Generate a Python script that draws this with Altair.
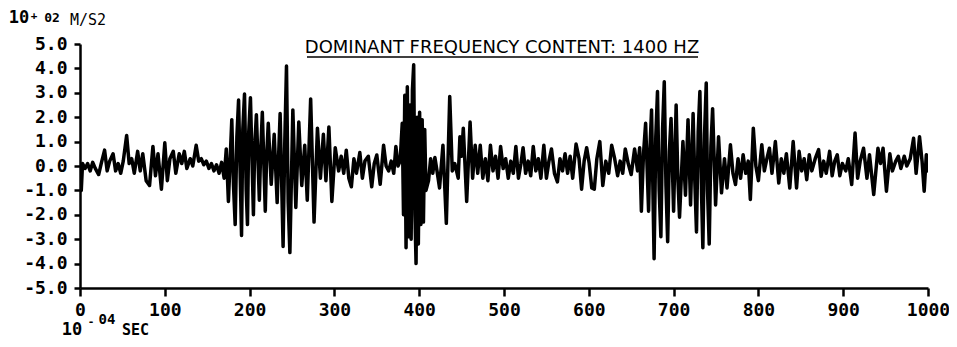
import altair as alt
import pandas as pd

# ---- data (time in 10^-4 s, acceleration in 10^2 m/s2) ----
t_quiet1 = [0, 1.5, 3, 6, 9, 12, 15, 18, 22, 25, 29, 32, 35, 39, 42, 45, 48, 51, 55, 58, 61, 64, 68, 71, 74, 78,
            82, 86, 89, 92, 96, 100, 103, 106, 110, 113, 117, 120, 123, 126, 130, 133, 137, 140, 143, 146, 149,
            152, 155, 158, 161, 164, 167, 170, 172.5]
v_quiet1 = [0.0, -1.0, 0.1, -0.1, 0.1, -0.2, 0.15, -0.1, -0.35, 0.1, 0.65, -0.2, 0.2, 0.5, -0.2, 0.1, -0.3, 0.2,
            1.25, 0.1, 0.3, -0.3, 0.6, -0.2, 0.5, -0.6, -0.8, 0.8, -0.4, 0.5, -0.95, 0.95, -0.6, 0.3, 0.6, -0.3,
            0.5, 0.1, 0.6, -0.1, 0.3, 0.0, 0.85, 0.2, 0.3, 0.05, 0.2, -0.1, 0.1, -0.2, 0.05, -0.3, 0.15, -0.5, 0.7]

t_burst1 = [175, 179, 181, 183, 185, 187, 190.5, 192, 194, 196, 197.5, 199, 201, 204.5, 206, 208, 211.5, 213,
            215, 218.5, 220, 222, 225.5, 229, 232.5, 234, 236, 239.5, 241.5, 243.5, 245.5, 247.5, 251, 254.5,
            258, 261.5, 265, 268, 272, 276, 280, 283.5, 287, 290, 293.5, 297, 301, 305]
v_burst1 = [-1.45, 1.9, -0.8, -2.4, 1.2, 2.7, -2.85, 1.5, 2.95, -1.0, -2.4, 1.4, 2.8, -2.0, 0.8, 2.1, -1.4, 0.5,
            2.2, -1.85, 0.3, 1.75, -0.75, 1.3, -1.5, 0.2, 2.15, -3.3, 1.0, 4.1, -1.5, -3.55, 2.3, -1.7, 1.8,
            -0.8, 0.85, -1.4, 2.75, -2.3, 1.55, -0.5, 1.3, -0.6, 1.6, -1.45, 0.75, -0.2]

t_mid1 = [308, 311, 314, 317, 320, 323, 326, 330, 333, 336, 340, 344, 347, 350, 354, 358, 361, 364, 367, 370,
          372.5, 375, 377.5]
v_mid1 = [0.4, -0.3, 0.65, -0.5, -0.85, 0.3, -0.3, 0.55, -0.5, 0.2, 0.4, -0.85, 0.1, 0.45, -0.75, 0.85, 0.0,
          -0.2, 0.2, -0.3, 0.8, 0.0, 0.2]

t_burst2 = [380, 381.5, 383, 384.5, 386, 387.5, 389, 390.5, 392, 393.5, 395, 396.3, 397.5, 399, 400.5, 402,
            403.5, 405, 406.5, 408]
v_burst2 = [1.75, -2.0, 2.9, -3.35, 3.25, -2.9, 2.5, -3.0, 3.1, 4.15, -2.0, -4.0, 2.0, -3.2, 2.2, -2.4, 1.9,
            -2.3, 1.5, -1.0]

t_mid2 = [411, 413.5, 416, 418.5, 421, 424, 428, 432, 436, 439, 442, 446, 448, 450, 452, 456, 460, 463, 466,
          469, 472, 475, 478, 481]
v_mid2 = [-0.6, 0.3, -0.3, 0.35, -0.2, -0.9, 0.85, -2.35, 2.85, -0.2, 0.1, -0.5, 1.2, 0.4, 1.55, -1.45, 1.8,
          -0.5, 0.85, -0.3, 0.85, -0.5, 0.3, -0.6]

t_quiet2 = [484, 487, 490, 493, 496, 499, 502, 505, 508, 511, 514, 517, 520, 522.5, 525.5, 528.5, 531.5, 534.5,
            537.5, 540.5, 543.5, 547, 550, 553, 556, 559.5, 563, 566, 569, 572, 575, 578, 581, 585, 588.5,
            591.5, 594.5, 597.5, 600.5, 603.5, 606.5, 609.5, 613, 616.5, 620, 623.5, 627, 630.5, 634, 637, 640,
            643, 646.5, 650, 654, 657.5, 660]
v_quiet2 = [0.85, -0.2, 0.4, -0.5, 0.8, -0.1, 0.3, -0.5, 0.2, -0.3, 0.8, -0.5, 0.1, 0.75, -0.3, 0.2, -0.4, 0.8,
            -0.2, 0.3, -0.5, 0.85, -0.5, 0.2, 0.7, -0.3, -0.65, 0.3, -0.2, 0.5, -0.3, 0.4, -0.5, 0.9, 0.3,
            -0.95, 0.2, 0.75, 0.1, -0.9, -0.95, 0.3, 1.0, -0.8, 0.2, -0.3, 0.85, 0.3, -0.4, 0.2, -0.3, 0.7, 0.1,
            -0.35, 0.7, -0.2, 0.75]

t_burst3 = [662, 664.5, 667, 670.5, 672, 674, 677, 679, 681, 683, 685, 687, 689, 691, 693, 695, 697, 700, 703,
            705, 707, 711, 714, 717, 720, 723, 725, 727, 729, 731, 733, 734.5, 736.5, 738.5, 740, 742, 744, 746,
            749.5, 753, 756.5]
v_burst3 = [-1.85, 0.5, 1.75, -1.85, 0.6, 2.3, -3.8, 1.2, 3.05, -1.0, -2.9, 1.5, 3.45, -0.8, -3.1, 0.6, 1.95,
            -1.85, 2.5, -0.5, -2.1, 1.0, -1.2, 1.9, -1.6, 2.15, -0.6, -2.7, 1.4, 3.05, -1.2, -3.35, 1.3, 3.4,
            -1.0, -3.2, 0.8, 2.35, -1.6, 1.2, -1.1]

t_tail = [760, 763, 767, 770, 773, 776, 779, 782, 785, 788, 790.5, 794, 797, 800, 804, 807, 810, 813, 816, 820,
          824, 827, 830, 833, 837, 841, 845, 848, 851, 854, 857, 860, 863, 867, 871, 874, 877, 880, 884, 887,
          890, 893, 896, 899, 903, 906, 910, 914, 917, 920, 924, 928, 931, 936, 941, 944, 947, 951, 955, 958,
          962, 965, 968, 972, 975, 979, 983, 986, 990, 993, 995.5, 998, 1000]
v_tail = [0.3, -0.9, 0.87, -0.3, -0.76, 0.3, -0.5, 0.46, -0.3, 0.2, -1.37, 1.55, 0.0, -0.6, 0.87, -0.2, 0.3,
          0.73, -0.3, 1.0, -0.7, 0.3, -0.3, 0.5, -0.9, 1.0, -0.9, 0.6, -0.2, 0.3, -0.56, 0.46, -0.2, 0.3, 0.67,
          -0.42, 0.2, -0.3, 0.6, -0.4, 0.2, 0.46, -0.4, 0.1, -0.2, 0.3, -0.76, 1.35, -0.5, 0.2, 0.73, -0.5,
          0.46, -1.17, 0.73, 0.1, 0.73, -1.03, 0.5, -0.2, 0.2, 0.4, -0.1, 0.4, 0.0, 0.3, 1.14, -0.3, 1.2, 0.2,
          -1.03, 0.46, -0.2]

x_ticks = [0, 100, 200, 300, 400, 500, 600, 700, 800, 900, 1000]
y_ticks = [5, 4, 3, 2, 1, 0, -1, -2, -3, -4, -5]
title_text = "DOMINANT FREQUENCY CONTENT: 1400 HZ"

times = t_quiet1 + t_burst1 + t_mid1 + t_burst2 + t_mid2 + t_quiet2 + t_burst3 + t_tail
values = v_quiet1 + v_burst1 + v_mid1 + v_burst2 + v_mid2 + v_quiet2 + v_burst3 + v_tail
df = pd.DataFrame({"t": times, "a": values})

MONO = "DejaVu Sans Mono"

line = alt.Chart(df).mark_line(
    color="black", strokeWidth=3.5, strokeJoin="round", strokeCap="round", clip=True
).encode(
    x=alt.X("t:Q", scale=alt.Scale(domain=[0, 1000], nice=False, zero=False),
            axis=alt.Axis(values=x_ticks, title=None, grid=False, format="d",
                          tickSize=8, tickWidth=2.5, domainWidth=2.5, domainColor="black",
                          tickColor="black", labelFont=MONO, labelFontWeight="bold",
                          labelFontSize=18, labelColor="black", labelPadding=5,
                          labelFlush=False, labelOverlap=False)),
    y=alt.Y("a:Q", scale=alt.Scale(domain=[-5, 5], nice=False, zero=False),
            axis=alt.Axis(values=y_ticks, title=None, grid=False,
                          labelExpr="(datum.value < 0 ? '-' : '') + format(abs(datum.value), '.1f')",
                          tickSize=6, tickWidth=2.5, domainWidth=2.5, domainColor="black",
                          tickColor="black", labelFont=MONO, labelFontWeight="bold",
                          labelFontSize=18, labelColor="black", labelPadding=7,
                          labelFlush=False, labelOverlap=False)),
)

one = pd.DataFrame({"k": [0]})


def label(text, x, y, size, weight="bold", align="center", font=MONO):
    return alt.Chart(one).mark_text(
        text=text, font=font, fontSize=size, fontWeight=weight, align=align,
        baseline="middle", color="black"
    ).encode(x=alt.value(x), y=alt.value(y))


title = label(title_text, 422, 4, 18, weight="normal", font="DejaVu Sans")
underline = alt.Chart(one).mark_rule(color="black", strokeWidth=1.3).encode(
    x=alt.value(227), x2=alt.value(618), y=alt.value(13))

top_units = [
    label("10", -61, -26, 17),
    label("+", -46, -28, 11),
    label("02", -28, -26, 13),
    label("M/S2", -10, -24, 15, weight="normal", align="left"),
]
bottom_units = [
    label("10", -8, 286, 17),
    label("-", 11, 278, 11),
    label("04", 27, 276, 14),
    label("SEC", 42, 286, 15, align="left"),
]

chart = alt.layer(line, title, underline, *top_units, *bottom_units).properties(
    width=848, height=244,
    autosize=alt.AutoSizeParams(type="none"),
    padding={"left": 72, "top": 36, "right": 21, "bottom": 51},
    background="white",
).configure_view(stroke=None)

chart.save("out.html", embed_options={"renderer": "svg", "actions": False})
